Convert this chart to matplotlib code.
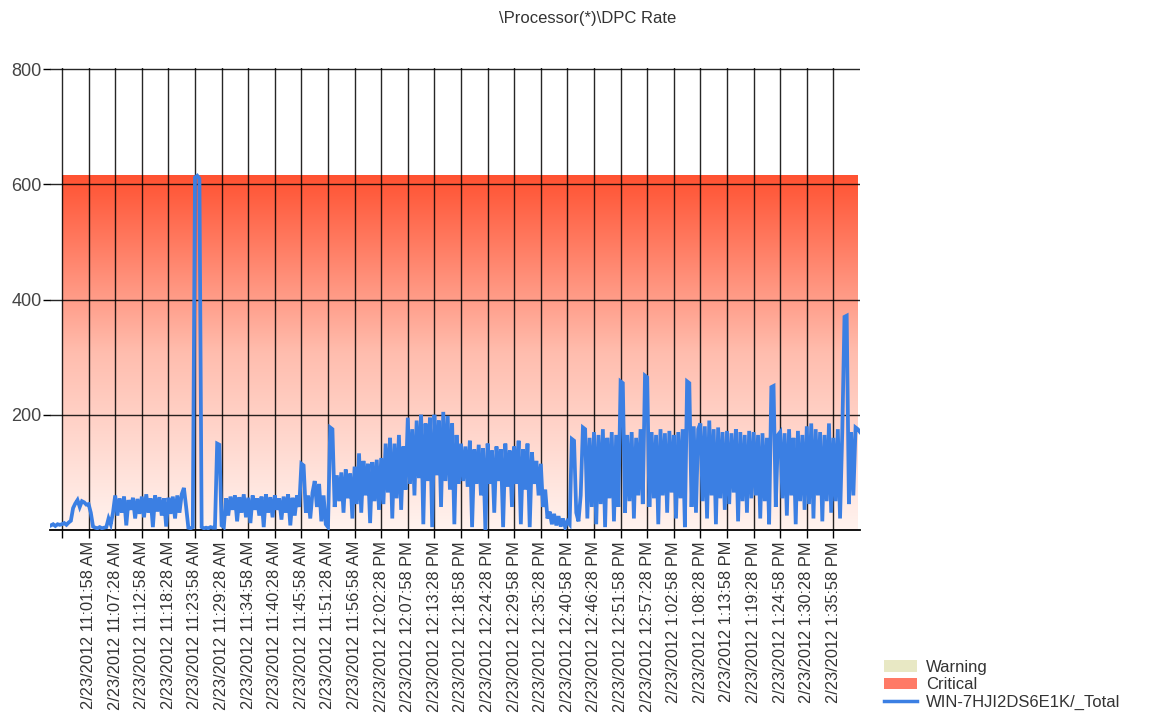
import numpy as np
import matplotlib
matplotlib.use('Agg')
import matplotlib.pyplot as plt
from matplotlib.colors import LinearSegmentedColormap
from matplotlib.patches import Patch
from matplotlib.lines import Line2D

plt.rcParams['font.family'] = ['Liberation Sans', 'DejaVu Sans']

# x axis is minutes after 10:56:28 AM, one gridline every 5.5 minutes
tick_minutes = [5.5 * k for k in range(30)]
tick_labels = [''] + [
    '2/23/2012 11:01:58 AM', '2/23/2012 11:07:28 AM', '2/23/2012 11:12:58 AM',
    '2/23/2012 11:18:28 AM', '2/23/2012 11:23:58 AM', '2/23/2012 11:29:28 AM',
    '2/23/2012 11:34:58 AM', '2/23/2012 11:40:28 AM', '2/23/2012 11:45:58 AM',
    '2/23/2012 11:51:28 AM', '2/23/2012 11:56:58 AM', '2/23/2012 12:02:28 PM',
    '2/23/2012 12:07:58 PM', '2/23/2012 12:13:28 PM', '2/23/2012 12:18:58 PM',
    '2/23/2012 12:24:28 PM', '2/23/2012 12:29:58 PM', '2/23/2012 12:35:28 PM',
    '2/23/2012 12:40:58 PM', '2/23/2012 12:46:28 PM', '2/23/2012 12:51:58 PM',
    '2/23/2012 12:57:28 PM', '2/23/2012 1:02:58 PM', '2/23/2012 1:08:28 PM',
    '2/23/2012 1:13:58 PM', '2/23/2012 1:19:28 PM', '2/23/2012 1:24:58 PM',
    '2/23/2012 1:30:28 PM', '2/23/2012 1:35:58 PM']

# samples every 27.5 s (12 per gridline interval), first one at 10:54:10
sample_step = 5.5 / 12
first_sample = -5 * sample_step

dpc_rate = [
    8, 10, 7, 10, 9,
    10, 12, 9, 13, 16, 38, 46, 52, 40, 50, 48, 44,          # 10:56
    45, 30, 6, 4, 3, 5, 3, 4, 5, 20, 10, 30,                 # 11:01
    60, 25, 55, 30, 58, 8, 52, 35, 56, 20, 54, 28,           # 11:07
    58, 22, 62, 30, 55, 5, 60, 32, 57, 25, 55, 6,            # 11:12
    56, 28, 58, 20, 60, 30, 62, 73, 40, 4, 3, 5,             # 11:18
    612, 615, 610, 5, 3, 4, 3, 5, 4, 4, 150, 148,            # 11:23
    8, 5, 55, 25, 58, 35, 60, 15, 57, 30, 62, 22,            # 11:29
    56, 12, 60, 35, 55, 25, 58, 5, 62, 30, 57, 22,           # 11:34
    60, 35, 55, 18, 58, 30, 62, 8, 56, 25, 60, 40,           # 11:40
    115, 112, 30, 60, 20, 65, 85, 40, 80, 15, 60, 10,        # 11:45
    5, 178, 175, 40, 95, 50, 100, 30, 105, 55, 98, 20,       # 11:51
    110, 45, 133, 30, 120, 60, 115, 12, 118, 50, 122, 35,    # 11:56
    125, 45, 150, 65, 160, 20, 150, 55, 165, 35, 145, 70,    # 12:02
    195, 80, 175, 60, 190, 90, 200, 10, 185, 85, 195, 5,     # 12:07
    200, 95, 190, 40, 205, 85, 198, 70, 185, 10, 165, 80,    # 12:13
    150, 85, 145, 75, 155, 5, 140, 80, 148, 60, 142, 0,      # 12:18
    150, 80, 138, 30, 145, 85, 140, 5, 150, 75, 138, 40,     # 12:24
    145, 80, 155, 10, 140, 70, 150, 5, 135, 80, 120, 60,     # 12:29
    115, 40, 70, 20, 32, 10, 28, 8, 24, 6, 20, 5,            # 12:35
    15, 10, 158, 155, 30, 15, 60, 178, 175, 20, 160, 40,     # 12:40
    170, 10, 165, 45, 175, 5, 160, 55, 170, 15, 165, 40,     # 12:46
    258, 255, 30, 165, 50, 170, 20, 160, 60, 175, 45, 268,   # 12:51
    265, 40, 170, 55, 165, 10, 175, 60, 168, 30, 172, 65,    # 12:57
    165, 20, 170, 55, 175, 5, 258, 255, 40, 180, 30, 175,    # 1:02
    185, 50, 180, 20, 190, 60, 175, 10, 178, 55, 170, 35,    # 1:08
    172, 45, 168, 65, 175, 15, 170, 50, 165, 30, 172, 55,    # 1:13
    170, 60, 165, 20, 168, 50, 160, 10, 248, 250, 40, 165,   # 1:19
    170, 55, 168, 25, 175, 60, 160, 10, 172, 50, 165, 35,    # 1:24
    180, 45, 185, 20, 175, 60, 170, 15, 165, 50, 185, 30,    # 1:30
    160, 50, 175, 20, 170, 370, 372, 45, 170, 60, 178, 175,  # 1:35
    170]

critical_level = 615
critical_span = [0, 164.4]

blue = '#3B7FE3'

times = first_sample + sample_step * np.arange(len(dpc_rate))

fig = plt.figure(figsize=(11.5, 7.18), dpi=100)
ax = fig.add_axes([50 / 1150, 1 - 530 / 718, 810 / 1150, 462 / 718])

# critical band, red fading to white towards zero
red_cmap = LinearSegmentedColormap.from_list('crit', ['#FFF3EF', '#FFBDAE', '#FF5232'])
grad = np.linspace(0, 1, 256).reshape(-1, 1)
ax.imshow(grad, extent=[critical_span[0], critical_span[1], 0, critical_level],
          origin='lower', aspect='auto', cmap=red_cmap, zorder=0)

ax.plot(times, dpc_rate, color=blue, lw=2.7, solid_joinstyle='miter', zorder=3)

ax.set_xlim(-2.48, 165.0)
ax.set_ylim(0, 802)
ax.set_axisbelow(True)

ax.set_xticks(tick_minutes)
ax.set_xticklabels(tick_labels, rotation=90, fontsize=11.8, color='#333333')
ax.set_yticks([200, 400, 600, 800])
ax.set_yticklabels(['200', '400', '600', '800'], fontsize=13, color='#444444')
ax.tick_params(axis='x', direction='out', length=6, width=1, pad=2)
ax.tick_params(axis='y', direction='out', length=5, width=1, pad=1)
ax.grid(True, color='black', lw=1, alpha=0.85)

for s in ['top', 'right', 'left']:
    ax.spines[s].set_visible(False)
ax.spines['bottom'].set_color('black')
ax.spines['bottom'].set_linewidth(1.3)

fig.text(588 / 1150, 1 - 18 / 718, '\\Processor(*)\\DPC Rate', ha='center', va='center',
         fontsize=12, color='#333333')

handles = [Patch(facecolor='#E8E8C4'), Patch(facecolor='#FF7A66'),
           Line2D([], [], color=blue, lw=2.5)]
fig.legend(handles, ['Warning', 'Critical', 'WIN-7HJI2DS6E1K/_Total'],
           loc='lower left', bbox_to_anchor=(884 / 1150, 8 / 718), frameon=False,
           fontsize=12, handlelength=2.0, handleheight=0.7, handletextpad=0.5,
           labelspacing=0.15, borderaxespad=0, borderpad=0, labelcolor='#333333')

fig.savefig('out.png', dpi=100)
